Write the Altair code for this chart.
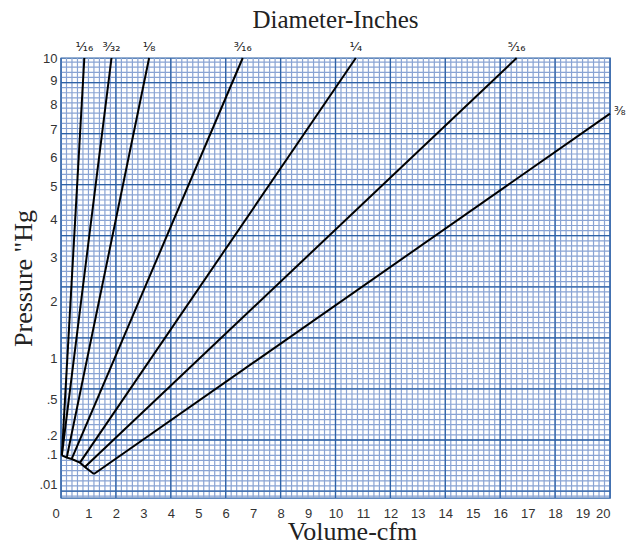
import altair as alt
import numpy as np
import pandas as pd

# ---- data ----
diam_labels = ["¹⁄₁₆", "³⁄₃₂", "¹⁄₈", "³⁄₁₆", "¹⁄₄", "⁵⁄₁₆", "³⁄₈"]
start_x = [0.03, 0.03, 0.21, 0.39, 0.69, 0.87, 1.20]
start_y = [0.0935, 0.0935, 0.084, 0.0787, 0.0645, 0.0497, 0.0298]
end_x = [0.85, 1.84, 3.21, 6.62, 10.74, 16.6, 20.0]
end_y = [10, 10, 10, 10, 10, 10, 7.63]

base_x = [0.03, 0.21, 0.39, 0.69, 0.87, 1.20]
base_y = [0.0935, 0.084, 0.0787, 0.0645, 0.0497, 0.0298]

x_ticks = list(range(0, 21))
y_ticks = [0.01, 0.1, 0.2, 0.5, 1, 2, 3, 4, 5, 6, 7, 8, 9, 10]

# ---- tables ----
rows = []
for lab, sx, sy, ex, ey in zip(diam_labels, start_x, start_y, end_x, end_y):
    rows.append({"d": lab, "x": sx, "y": sy, "o": 0})
    rows.append({"d": lab, "x": ex, "y": ey, "o": 1})
lines_df = pd.DataFrame(rows)
base_df = pd.DataFrame({"x": base_x, "y": base_y, "o": range(len(base_x))})
lab_df = pd.DataFrame({"d": diam_labels, "x": end_x, "y": end_y})

# graph-paper grid (style only)
vminor = pd.DataFrame({"gx": np.round(np.arange(0, 20.001, 0.2), 3)})
vmajor = pd.DataFrame({"gx": np.arange(0, 21, 2)})
s_major = 1.151 + 0.367 * np.arange(-3, 6)
s_major = s_major[(s_major >= 0) & (s_major <= np.sqrt(10))]
s_minor = np.arange(0.05 - 0.0367, np.sqrt(10), 0.0367)
s_minor = s_minor[s_minor >= 0]
hminor = pd.DataFrame({"gy": s_minor ** 2})
hmajor = pd.DataFrame({"gy": s_major ** 2})

xs = alt.Scale(domain=[0, 20], nice=False, zero=False)
ys = alt.Scale(type="sqrt", domain=[0, 10], nice=False)

xa = alt.Axis(values=x_ticks, grid=False, ticks=False, domain=False,
              labelFont="Liberation Sans", labelFontSize=13, labelColor="#333",
              labelPadding=9,
              labelOffset={"condition": {"test": "datum.value == 0", "value": -9}, "value": 0},
              title="Volume-cfm", titleFont="Liberation Serif",
              titleFontSize=26, titleFontWeight="normal", titleColor="#222",
              titleX=291, titleY=41, titleBaseline="alphabetic")
ya = alt.Axis(values=y_ticks, grid=False, ticks=False, domain=False,
              labelFont="Liberation Sans", labelFontSize=13, labelColor="#333",
              labelPadding=4,
              labelExpr="datum.value==0.5?'.5':datum.value==0.2?'.2':datum.value==0.1?'.1':datum.value==0.01?'.01':datum.label",
              title='Pressure "Hg', titleFont="Liberation Serif", titleFontSize=26,
              titleFontWeight="normal", titleColor="#222", titleAngle=-90,
              titleX=-30, titleY=220, titleBaseline="alphabetic", titleAlign="center")

vmin = alt.Chart(vminor).mark_rule(color="#89a3d3", strokeWidth=1.2).encode(
    x=alt.X("gx:Q", scale=xs, axis=xa))
vmaj = alt.Chart(vmajor).mark_rule(color="#2e62a6", strokeWidth=1.3).encode(
    x=alt.X("gx:Q", scale=xs, axis=xa))
hmin = alt.Chart(hminor).mark_rule(color="#89a3d3", strokeWidth=1.2).encode(
    y=alt.Y("gy:Q", scale=ys, axis=ya))
hmaj = alt.Chart(hmajor).mark_rule(color="#2e62a6", strokeWidth=1.3).encode(
    y=alt.Y("gy:Q", scale=ys, axis=ya))

lines = alt.Chart(lines_df).mark_line(color="black", strokeWidth=2).encode(
    x=alt.X("x:Q", scale=xs, axis=xa),
    y=alt.Y("y:Q", scale=ys, axis=ya),
    detail="d:N", order="o:Q")
base = alt.Chart(base_df).mark_line(color="black", strokeWidth=2).encode(
    x=alt.X("x:Q", scale=xs, axis=xa),
    y=alt.Y("y:Q", scale=ys, axis=ya), order="o:Q")

top_labels = alt.Chart(lab_df.iloc[:6]).mark_text(
    font="DejaVu Sans", fontSize=13, color="#222", dy=-4, baseline="bottom"
).encode(x=alt.X("x:Q", scale=xs, axis=xa), y=alt.Y("y:Q", scale=ys, axis=ya),
         text="d:N")
side_label = alt.Chart(lab_df.iloc[6:]).mark_text(
    font="DejaVu Sans", fontSize=12, color="#222", dx=4, dy=-3, align="left"
).encode(x=alt.X("x:Q", scale=xs, axis=xa), y=alt.Y("y:Q", scale=ys, axis=ya),
         text="d:N")

chart = alt.layer(vmin, hmin, vmaj, hmaj, lines, base, top_labels, side_label).properties(
    width=549, height=440,
    padding={"left": 53, "top": 50, "right": 16, "bottom": 44},
    autosize="none",
    title=alt.TitleParams("Diameter-Inches", font="Liberation Serif", fontSize=25,
                          fontWeight="normal", color="#222", anchor="middle",
                          frame="group", offset=8),
).configure_view(stroke="#2e62a6", strokeWidth=1.3)

chart.save("out.html", embed_options={"renderer": "svg", "actions": False})
